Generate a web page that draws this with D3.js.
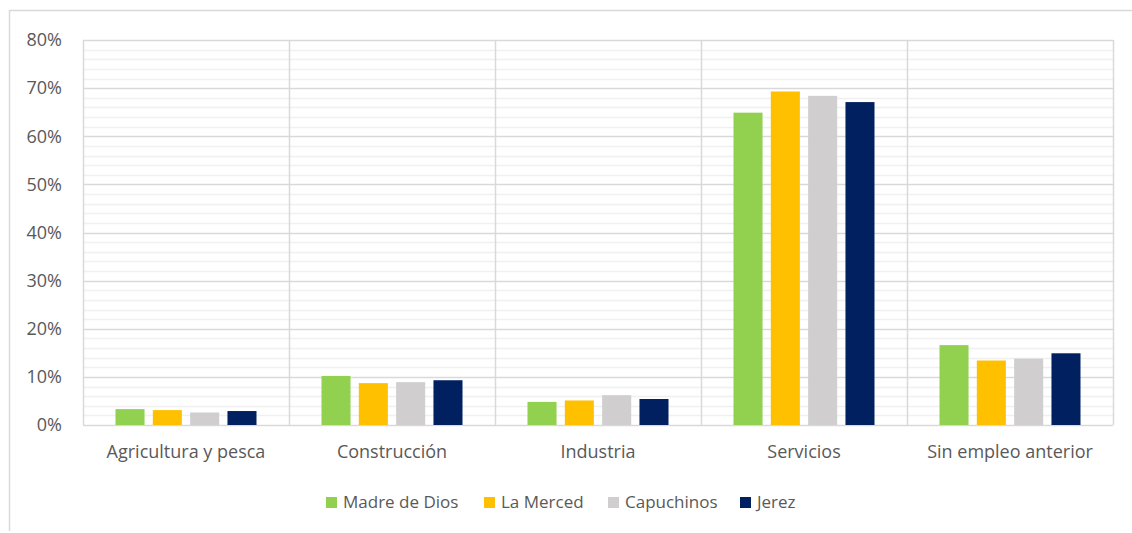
<!DOCTYPE html>
<html lang="es">
<head>
    <meta charset="UTF-8">
    <title>Sector de empleo anterior</title>
    <script src="https://d3js.org/d3.v7.min.js"></script>
    <style>
        body { margin: 0; background: #fff; }
        text {
            font-family: "Open Sans", "Noto Sans", sans-serif;
            fill: #595959;
        }
    </style>
</head>
<body>
    <script>
        // data
        const categories = ["Agricultura y pesca", "Construcción", "Industria", "Servicios", "Sin empleo anterior"];
        const series = ["Madre de Dios", "La Merced", "Capuchinos", "Jerez"];
        const colors = ["#92D050", "#FFC000", "#D0CECE", "#002060"];
        const madreDeDios = [3.3, 10.2, 4.8, 64.9, 16.6];
        const laMerced = [3.1, 8.7, 5.1, 69.3, 13.4];
        const capuchinos = [2.6, 8.9, 6.2, 68.4, 13.8];
        const jerez = [2.9, 9.3, 5.4, 67.1, 14.9];
        const yTicks = [0, 10, 20, 30, 40, 50, 60, 70, 80];

        const values = [madreDeDios, laMerced, capuchinos, jerez];

        const width = 1132, height = 533;
        const plot = { left: 83, right: 1113, top: 40, bottom: 425 };

        const svg = d3.select("body").append("svg")
            .attr("width", width)
            .attr("height", height);

        // outer chart frame (left and top edges visible)
        svg.append("path")
            .attr("d", `M9.5,531V10.5H${width}`)
            .attr("fill", "none")
            .attr("stroke", "#D9D9D9")
            .attr("stroke-width", 1.5);

        const x0 = d3.scaleBand()
            .domain(categories)
            .range([plot.left, plot.right]);

        const x1 = d3.scaleBand()
            .domain(series)
            .range([32.5, x0.bandwidth() - 32.5])
            .paddingInner(0.222);

        const y = d3.scaleLinear()
            .domain([0, 80])
            .range([plot.bottom, plot.top]);

        // minor gridlines every 2%
        svg.append("g")
            .selectAll("line")
            .data(d3.range(2, 80, 2).filter(v => v % 10 !== 0))
            .join("line")
            .attr("x1", plot.left).attr("x2", plot.right)
            .attr("y1", d => Math.round(y(d)) + 0.5)
            .attr("y2", d => Math.round(y(d)) + 0.5)
            .attr("stroke", "#F0F0F0")
            .attr("stroke-width", 1.5);

        // major gridlines
        svg.append("g")
            .selectAll("line")
            .data(yTicks)
            .join("line")
            .attr("x1", plot.left).attr("x2", plot.right)
            .attr("y1", d => Math.round(y(d)) + 0.5)
            .attr("y2", d => Math.round(y(d)) + 0.5)
            .attr("stroke", "#D9D9D9")
            .attr("stroke-width", 1.5);

        // vertical category separators
        svg.append("g")
            .selectAll("line")
            .data(categories.concat(["end"]))
            .join("line")
            .attr("x1", (d, i) => Math.round(plot.left + i * x0.bandwidth()) + 0.5)
            .attr("x2", (d, i) => Math.round(plot.left + i * x0.bandwidth()) + 0.5)
            .attr("y1", plot.top).attr("y2", plot.bottom)
            .attr("stroke", "#D9D9D9")
            .attr("stroke-width", 1.5);

        // bars
        const groups = svg.append("g")
            .selectAll("g")
            .data(categories)
            .join("g")
            .attr("transform", d => `translate(${x0(d)},0)`);

        groups.selectAll("rect")
            .data((c, ci) => series.map((s, si) => ({ s, si, v: values[si][ci] })))
            .join("rect")
            .attr("x", d => x1(d.s))
            .attr("width", x1.bandwidth())
            .attr("y", d => y(d.v))
            .attr("height", d => y(0) - y(d.v))
            .attr("fill", d => colors[d.si]);

        // y axis labels
        svg.append("g")
            .selectAll("text")
            .data(yTicks)
            .join("text")
            .attr("x", 62)
            .attr("y", d => y(d))
            .attr("dy", "0.35em")
            .attr("text-anchor", "end")
            .attr("font-size", 18)
            .text(d => d + "%");

        // x axis labels
        svg.append("g")
            .selectAll("text")
            .data(categories)
            .join("text")
            .attr("x", d => x0(d) + x0.bandwidth() / 2)
            .attr("y", 452)
            .attr("dy", "0.35em")
            .attr("text-anchor", "middle")
            .attr("font-size", 18)
            .text(d => d);

        // legend
        const legendX = [326, 484, 608, 740];
        const legend = svg.append("g")
            .selectAll("g")
            .data(series)
            .join("g")
            .attr("transform", (d, i) => `translate(${legendX[i]},497)`);

        legend.append("rect")
            .attr("width", 11).attr("height", 11)
            .attr("fill", (d, i) => colors[i]);

        legend.append("text")
            .attr("x", 17)
            .attr("y", 5.5)
            .attr("dy", "0.35em")
            .attr("font-size", 17)
            .text(d => d);
    </script>
</body>
</html>
